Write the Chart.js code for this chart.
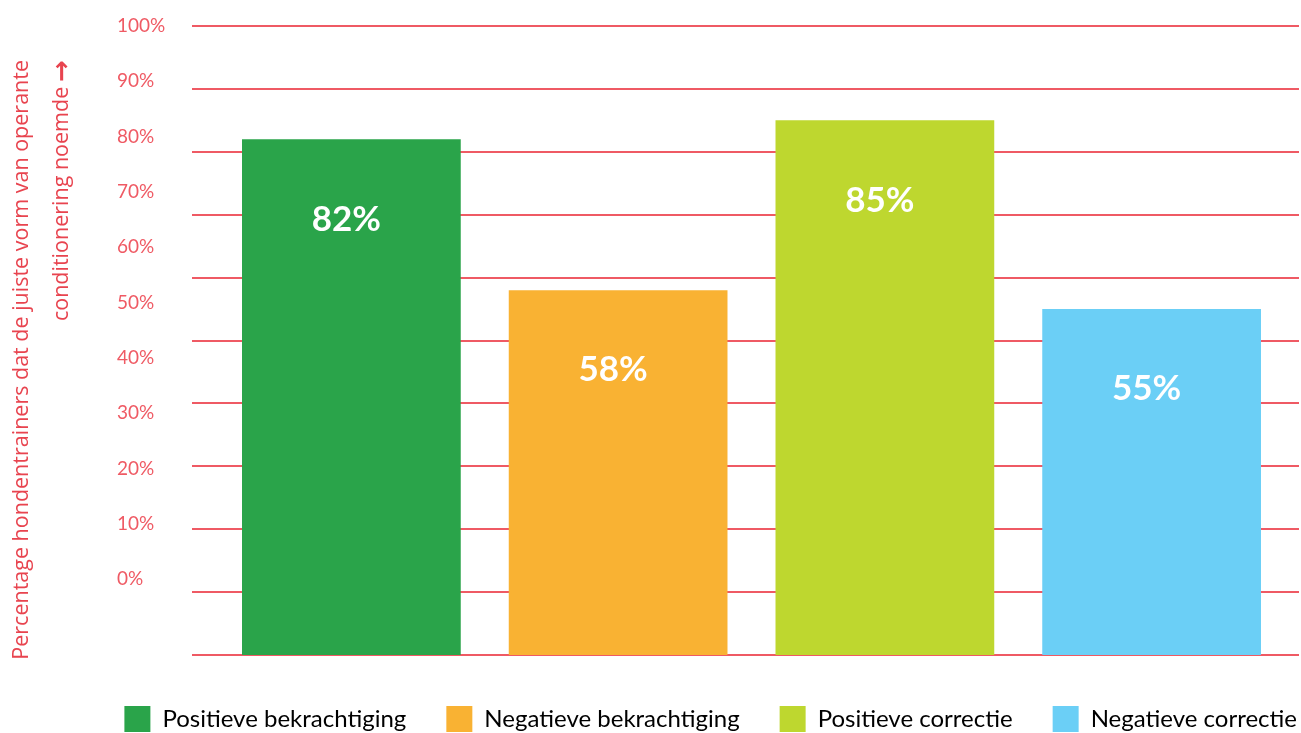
<!DOCTYPE html>
<html lang="nl">
<head>
    <meta charset="UTF-8">
    <title>Operante conditionering</title>
    <script src="https://cdn.jsdelivr.net/npm/chart.js"></script>
    <style>
        html, body {
            margin: 0;
            padding: 0;
            background: #ffffff;
            overflow: hidden;
        }
        .chart-box {
            position: relative;
            width: 1301px;
            height: 742px;
        }
    </style>
</head>
<body>
    <div class="chart-box">
        <canvas id="chart"></canvas>
    </div>

    <script>
        // Gegevens
        const categories = ['Positieve bekrachtiging', 'Negatieve bekrachtiging', 'Positieve correctie', 'Negatieve correctie'];
        const percentages = [82, 58, 85, 55];
        const barColors = ['#2aa44a', '#f9b233', '#bed72f', '#6bcff6'];
        const tickValues = [0, 10, 20, 30, 40, 50, 60, 70, 80, 90, 100];
        const tickLabels = ['0%', '10%', '20%', '30%', '40%', '50%', '60%', '70%', '80%', '90%', '100%'];
        const titleLines = ['Percentage hondentrainers dat de juiste vorm van operante', 'conditionering noemde'];

        const red = '#ef5a64';

        // Rasterlijnen, asteksten en waardelabels
        const decorations = {
            id: 'decorations',
            afterLayout(chart) {
                // legenda iets naar rechts, zoals in het origineel
                chart.legend.left += 36;
                chart.legend.right += 36;
            },
            beforeDatasetsDraw(chart) {
                const ctx = chart.ctx;
                const y = chart.scales.y;
                const yLab = chart.scales.yLab;
                ctx.save();
                ctx.strokeStyle = red;
                ctx.lineWidth = 2;
                tickValues.forEach(v => {
                    const py = Math.round(y.getPixelForValue(v));
                    ctx.beginPath();
                    ctx.moveTo(192, py);
                    ctx.lineTo(1299, py);
                    ctx.stroke();
                });

                // de labels staan op een eigen (verschoven) schaal
                ctx.fillStyle = red;
                ctx.font = '19px Lato';
                ctx.textAlign = 'left';
                ctx.textBaseline = 'middle';
                tickValues.forEach((v, i) => {
                    ctx.fillText(tickLabels[i], 117, yLab.getPixelForValue(v));
                });

                // astitel, gedraaid
                ctx.fillStyle = '#e8444f';
                ctx.textAlign = 'right';
                ctx.textBaseline = 'middle';
                ctx.translate(0, 60);
                ctx.rotate(-Math.PI / 2);
                ctx.font = '21.5px "Open Sans"';
                ctx.fillText(titleLines[0], 0, 22);
                ctx.font = 'bold 26px "DejaVu Sans"';
                ctx.fillText('\u2192', 0, 63);
                const arrowW = ctx.measureText('\u2192').width;
                ctx.font = '21.5px "Open Sans"';
                ctx.fillText(titleLines[1], -arrowW - 5, 62);
                ctx.restore();
            },
            afterDatasetsDraw(chart) {
                const ctx = chart.ctx;
                const meta = chart.getDatasetMeta(0);
                ctx.save();
                ctx.fillStyle = '#ffffff';
                ctx.font = 'bold 35px Lato';
                ctx.textAlign = 'center';
                ctx.textBaseline = 'middle';
                meta.data.forEach((bar, i) => {
                    ctx.fillText(percentages[i] + '%', bar.x - 5, bar.y + 80);
                });
                ctx.restore();
            }
        };

        new Chart(document.getElementById('chart'), {
            type: 'bar',
            data: {
                labels: categories,
                datasets: [{
                    label: 'Percentage',
                    data: percentages,
                    backgroundColor: barColors,
                    borderWidth: 0,
                    barPercentage: 0.82,
                    categoryPercentage: 1
                }]
            },
            options: {
                responsive: true,
                maintainAspectRatio: false,
                animation: false,
                layout: { padding: { top: 26, left: 0, right: 0, bottom: 0 } },
                plugins: {
                    tooltip: { enabled: false },
                    legend: {
                        position: 'bottom',
                        align: 'end',
                        labels: {
                            boxWidth: 26,
                            boxHeight: 26,
                            padding: 40,
                            color: '#231f20',
                            font: { family: 'Lato', size: 24 },
                            generateLabels: chart => chart.data.labels.map((l, i) => ({
                                text: l,
                                fillStyle: barColors[i],
                                strokeStyle: barColors[i],
                                lineWidth: 0,
                                hidden: false,
                                index: i
                            }))
                        }
                    }
                },
                scales: {
                    x: {
                        grid: { display: false },
                        border: { display: false },
                        ticks: { display: false },
                        afterFit: s => { s.height = 11; }
                    },
                    y: {
                        min: 0,
                        max: 100,
                        grid: { display: false },
                        border: { display: false },
                        ticks: { display: false },
                        afterFit: s => { s.width = 218; }
                    },
                    yLab: {
                        position: 'right',
                        min: -13.7,
                        max: 100,
                        grid: { display: false },
                        border: { display: false },
                        ticks: { display: false },
                        afterFit: s => { s.width = 16; }
                    }
                }
            },
            plugins: [decorations]
        });
    </script>
</body>
</html>
